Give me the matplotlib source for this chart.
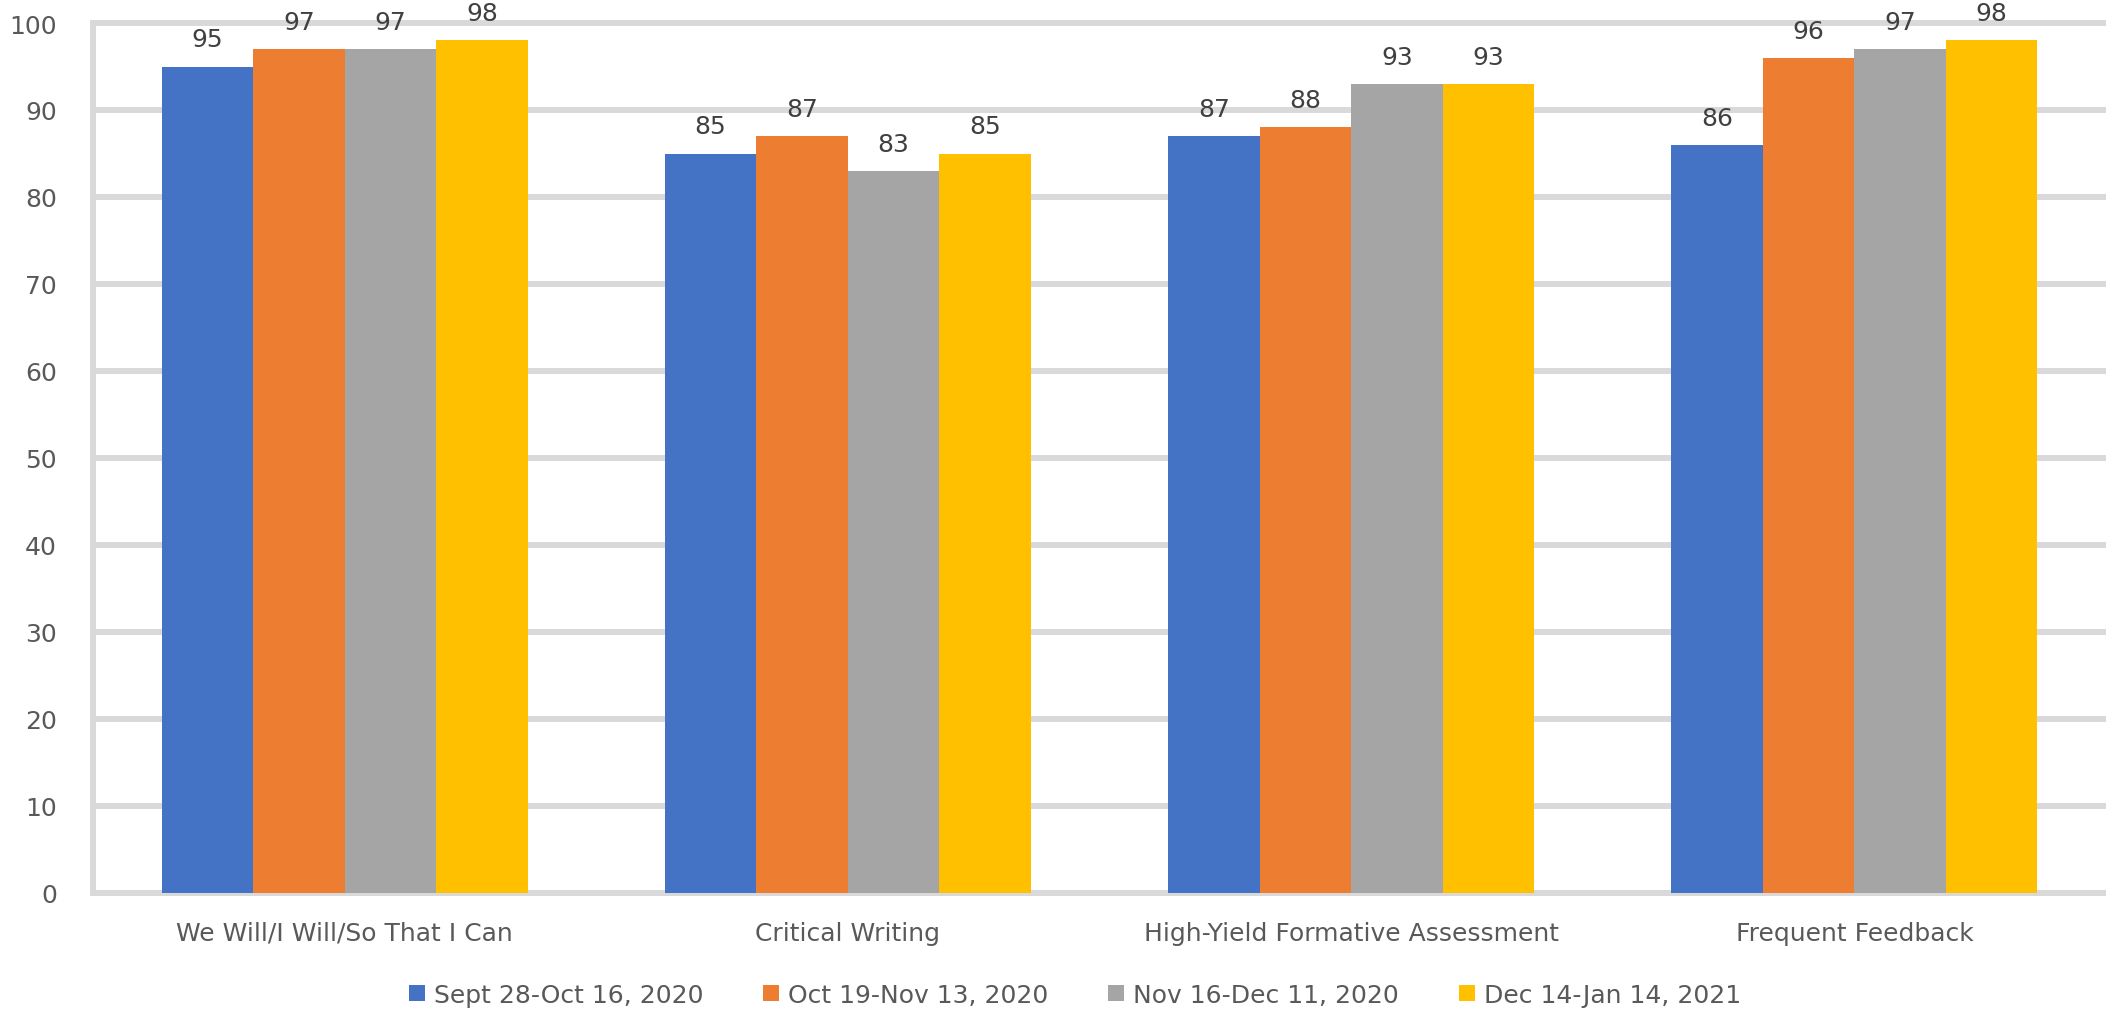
import numpy as np
import matplotlib
matplotlib.use("Agg")
import matplotlib.pyplot as plt
from matplotlib.patches import Patch

# data
categories = ["We Will/I Will/So That I Can", "Critical Writing",
              "High-Yield Formative Assessment", "Frequent Feedback"]
periods = ["Sept 28-Oct 16, 2020", "Oct 19-Nov 13, 2020",
           "Nov 16-Dec 11, 2020", "Dec 14-Jan 14, 2021"]
sept_oct = [95, 85, 87, 86]
oct_nov = [97, 87, 88, 96]
nov_dec = [97, 83, 93, 97]
dec_jan = [98, 85, 93, 98]
yticks = [0, 10, 20, 30, 40, 50, 60, 70, 80, 90, 100]

series = [sept_oct, oct_nov, nov_dec, dec_jan]
colors = ["#4472C4", "#ED7D31", "#A5A5A5", "#FFC000"]
grid_col = "#D9D9D9"
text_col = "#595959"

plt.rcParams['font.family'] = ['DejaVu Sans']

W, H = 2106, 1012
fig = plt.figure(figsize=(W / 100, H / 100), dpi=100)
ax = fig.add_axes([93 / W, 1 - 894 / H, 1 - 93 / W, (894 - 24) / H])

x = np.arange(len(categories))
bw = 1 / 5.5

# gridlines (drawn unclipped so the top one is full width)
for t in yticks:
    ax.axhline(t, color=grid_col, lw=4.3, zorder=0, clip_on=False)
ax.axvline(-0.5, color=grid_col, lw=4.3, zorder=0, clip_on=False)

for i, (vals, c) in enumerate(zip(series, colors)):
    pos = x + (i - 1.5) * bw
    ax.bar(pos, vals, width=bw, color=c, zorder=2)
    for px, v in zip(pos, vals):
        ax.annotate(str(v), (px, v), xytext=(0, 11), textcoords="offset points",
                    ha="center", va="bottom", fontsize=18, color="#404040")

ax.set_xlim(-0.5, 3.5)
ax.set_ylim(0, 100)
ax.set_yticks(yticks)
ax.set_xticks(x)
ax.set_xticklabels(categories)
ax.tick_params(axis="y", length=0, pad=26, labelsize=18, labelcolor=text_col)
ax.tick_params(axis="x", length=0, pad=20, labelsize=18, labelcolor=text_col)
for s in ax.spines.values():
    s.set_visible(False)

# legend
handles = [Patch(facecolor=c, edgecolor="none") for c in colors]
fig.legend(handles, periods, loc="center", ncol=4,
           bbox_to_anchor=(1075 / W, 1 - 996 / H), frameon=False,
           fontsize=18, labelcolor=text_col, handlelength=0.64,
           handleheight=0.64, handletextpad=0.35, columnspacing=2.4,
           borderpad=0, borderaxespad=0)

fig.savefig("out.png", dpi=100)
